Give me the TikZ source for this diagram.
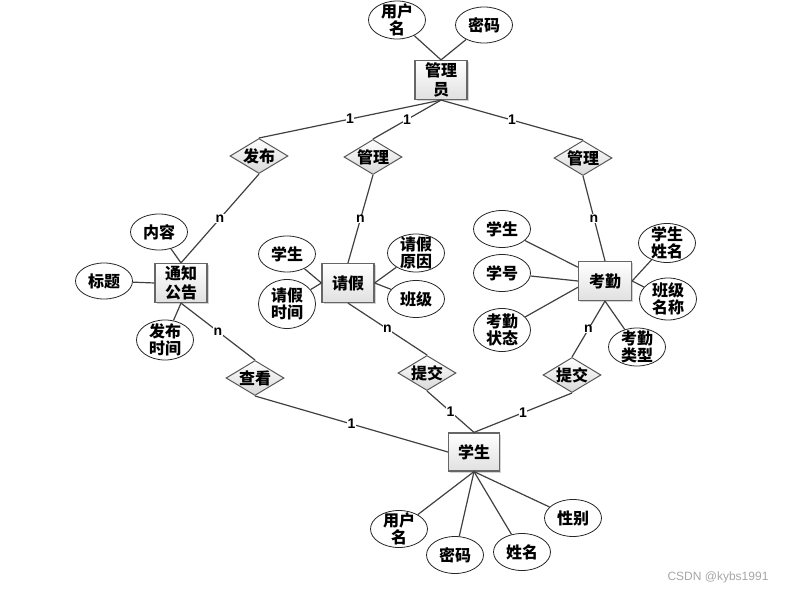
\documentclass[tikz,border=0pt]{standalone}
\usepackage{fontspec}
\setmainfont{Noto Sans CJK SC}
\newfontfamily\cardfont{Liberation Sans}
\usetikzlibrary{shapes.geometric,shadows}

\begin{document}
\begin{tikzpicture}
		[x=1pt,y=-1pt]
			\tikzstyle{entity}=[rectangle, draw=black!60, line width=1.2pt, top color=white, bottom color=black!12,
		drop shadow={shadow xshift=1.5pt, shadow yshift=-1.5pt, opacity=0.35},
		minimum width=52pt, minimum height=39pt, inner sep=0.5pt, align=center, font=\bfseries\fontsize{16}{19.5}\selectfont]
			\tikzstyle{relation}=[diamond, aspect=1.7, draw=black!65, line width=1pt, top color=white, bottom color=black!15,
		minimum width=58pt, minimum height=35pt, inner sep=-0.5pt, font=\bfseries\fontsize{16}{17}\selectfont]
			\tikzstyle{attr}=[ellipse, draw=black!85, line width=0.8pt, fill=white,
		minimum width=57pt, minimum height=37pt, inner sep=-5pt, align=center, font=\bfseries\fontsize{16}{17.5}\selectfont]
			\tikzstyle{link}=[draw=black!75, line width=1.2pt]
			\tikzstyle{card}=[fill=white, inner sep=0.5pt, font=\cardfont\bfseries\fontsize{14}{14}\selectfont]
		\useasboundingbox (0,0) rectangle (793,591);
		%-----管理员
		 \node[entity]  (gly) at (441,80) {管理\\员};
		 \node[attr, minimum height=38pt]  (yhm1) at (397,20) {用户\\名};
		 \node[attr, minimum height=36pt]  (mm1) at (484,25) {密码};
		 \node[relation]  (fb) at (259,156) {发布};
		 \node[relation]  (gl1) at (373,157) {管理};
		 \node[relation]  (gl2) at (583,158) {管理};
		%-----通知公告
		 \node[entity]  (tzgg) at (181,283) {通知\\公告};
		 \node[attr, minimum height=36pt]  (nr) at (159,232) {内容};
		 \node[attr, minimum height=36pt]  (bt) at (104,281) {标题};
		 \node[attr, minimum height=40pt]  (fbsj) at (165,340) {发布\\时间};
		%-----请假
		 \node[entity]  (qj) at (348,283) {请假};
		 \node[attr, minimum height=36pt]  (xs1) at (287,254) {学生};
		 \node[attr, minimum height=49pt]  (qjsj) at (287,304) {请假\\时间};
		 \node[attr, minimum height=38pt]  (qjyy) at (416,253) {请假\\原因};
		 \node[attr]  (bj) at (416,299) {班级};
		%-----考勤
		 \node[entity, minimum width=53pt]  (kq) at (605,281) {考勤};
		 \node[attr]  (xs2) at (502,229) {学生};
		 \node[attr]  (xh) at (502,273) {学号};
		 \node[attr, minimum height=43pt]  (kqzt) at (502,330) {考勤\\状态};
		 \node[attr, minimum height=39pt]  (xsxm) at (667,243) {学生\\姓名};
		 \node[attr, minimum height=42pt]  (bjmc) at (668,299) {班级\\名称};
		 \node[attr, minimum height=38pt]  (kqlx) at (637,347) {考勤\\类型};
		%-----学生
		 \node[relation]  (ck) at (255,378) {查看};
		 \node[relation]  (tj1) at (427,373) {提交};
		 \node[relation]  (tj2) at (572,375) {提交};
		 \node[entity, minimum width=51pt, minimum height=38pt]  (xs) at (474,452) {学生};
		 \node[attr]  (yhm2) at (399,529) {用户\\名};
		 \node[attr]  (mm2) at (455,555) {密码};
		 \node[attr]  (xm) at (522,552) {姓名};
		 \node[attr]  (xb) at (573,518) {性别};

		 \node[font=\cardfont\fontsize{12}{12}\selectfont, text=black!35]  (wm) at (718,577) {CSDN @kybs1991};

		 \foreach \from/\to in {gly.north/yhm1, gly.north/mm1, tzgg.north/nr, tzgg.west/bt, tzgg.south/fbsj,
		 qj.west/xs1, qj.west/qjsj, qj.east/qjyy, qj.east/bj, kq.153/xs2, kq.west/xh, kq.193/kqzt,
		 kq.east/xsxm, kq.east/bjmc, kq.south/kqlx, xs.south/yhm2, xs.south/mm2, xs.south/xm, xs.south/xb}
		 \draw[link] (\from) -- (\to);

		 \foreach \from/\to/\c in {gly.south/fb.north/1, gly.south/gl1.north/1, gly.south/gl2.north/1,
		 fb.south/tzgg.north/n, gl1.south/qj.north/n, gl2.south/kq.north/n, tzgg.south/ck.north/n,
		 qj.south/tj1.north/n, kq.south/tj2.north/n, ck.south/xs.west/1, tj1.south/xs.north/1, tj2.south/xs.north/1}
		 \draw[link] (\from) -- node[card] {\c} (\to);

		\end{tikzpicture}
\end{document}
